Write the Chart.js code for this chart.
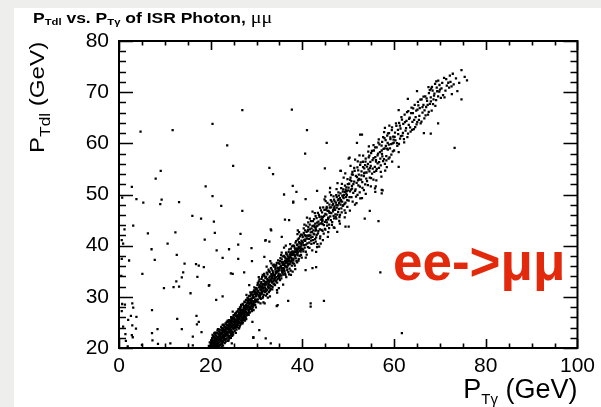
<!DOCTYPE html>
<html><head><meta charset="utf-8">
<script src="https://cdn.jsdelivr.net/npm/chart.js@4/dist/chart.umd.min.js"></script>
<style>html,body{margin:0;padding:0;background:#eeeeec;overflow:hidden}#wrap{width:601px;height:407px}</style>
</head><body><div id="wrap"><canvas id="c" width="601" height="407"></canvas></div>
<script>
const xTickLabels=[0,20,40,60,80,100];
const yTickLabels=[20,30,40,50,60,70,80];
const xTitle=['P','Tγ',' (GeV)'];
const yTitle=['P','Tdl',' (GeV)'];
const chartTitle=['P','Tdl',' vs. P','Tγ',' of ISR Photon, ','μμ'];
const channelLabel='ee->μμ';

const outlierPts=[
[2.8,51.5],[4.7,62.3],[8.0,53.1],[9.1,54.6],[11.7,62.6],[18.9,51.6],[20.4,63.8],[23.6,59.6],[24.9,55.6],[26.9,66.5],
[32.8,55.2],[33.6,54.0],[37.7,66.6],[37.9,51.7],[40.6,58.0],[41.0,62.6],[44.9,55.1],[45.3,60.1],[48.4,54.6],[50.1,57.0],
[50.5,55.6],[51.9,60.1],[20.4,49.7],[3.8,49.1],[5.3,48.4],[9.0,48.1],[9.3,49.0],[13.1,48.5],[0.7,49.4],[22.3,47.8],
[16.0,45.8],[17.9,45.3],[20.7,44.7],[26.9,46.8],[3.1,43.9],[1.2,43.2],[6.3,42.4],[12.3,42.6],[20.9,42.5],[26.5,42.3],
[0.6,41.1],[0.9,40.4],[18.7,41.2],[10.6,40.4],[7.1,39.3],[21.3,39.1],[24.0,39.3],[26.0,40.2],[28.9,39.5],[33.2,43.0],
[31.9,41.0],[12.6,38.2],[22.6,37.6],[0.6,37.4],[7.8,37.2],[2.2,37.1],[14.3,36.5],[16.8,36.4],[17.4,36.1],[26.0,37.4],
[29.0,37.0],[5.1,34.5],[14.0,34.8],[13.7,33.8],[12.5,33.0],[18.5,35.8],[17.1,33.9],[24.8,34.5],[27.3,34.8],[0.5,34.1],
[9.8,31.7],[11.9,31.9],[13.1,32.0],[15.6,30.7],[19.6,32.2],[0.7,28.6],[1.3,28.5],[2.9,28.7],[3.1,27.9],[0.6,27.2],
[2.6,26.3],[3.8,26.1],[7.2,27.4],[21.2,29.4],[22.6,30.1],[2.0,25.5],[0.9,24.2],[2.9,24.4],[3.7,23.8],[12.7,25.7],
[16.9,26.3],[17.4,25.1],[17.0,24.6],[13.7,23.7],[8.4,23.7],[1.4,22.7],[2.8,22.5],[7.2,22.9],[3.0,22.1],[1.5,21.4],
[7.3,21.5],[8.5,20.8],[11.2,20.9],[16.1,22.2],[18.0,23.1],[16.1,20.5],[29.3,22.1],[61.7,22.9],[73.2,59.1],[57.0,34.8],
[53.6,45.3],[56.6,44.8],[54.7,46.8],[57.3,50.9],[57.3,50.2],[61.0,55.4],[68.0,61.9],[69.6,63.9],[61.0,66.5],[53.0,61.7],
[36.0,50.0],[38.7,50.5],[38.0,48.4],[40.7,49.1],[36.2,45.1],[41.8,28.7],[41.8,28.1],[44.7,29.2],[36.9,29.2],[34.4,28.2],
[29.3,22.0],[24.6,20.9],[43.0,35.8],[40.7,35.2],[37.1,34.4],[49.4,43.7],[47.6,42.7],[42.9,40.8],[50.1,43.7],[51.8,48.3],
[52.6,61.7],[48.3,54.6],[50.3,57.2],[55.9,50.5],[57.5,50.8],[30.6,23.5],[34.6,28.4],[29.1,25.1],[28.4,32.3],[24.4,34.6],
[19.7,32.3],[32.0,21.9],[33.1,20.9],[38.0,48.6],[43.2,50.7],[37.1,45.0],[33.1,43.2],[32.0,41.1],[32.8,40.8],[35.5,41.7],
[43.2,39.7],[42.2,35.6],[31.7,37.8],[1.9,20.3],[5.0,20.6]
];
const band20to30=[
[19.6,20.4],[19.8,21.1],[19.9,20.2],[20.0,20.7],[20.1,21.5],[20.2,20.1],[20.3,22.0],[20.4,20.9],[20.5,21.4],[20.5,20.3],
[20.6,22.3],[20.7,20.6],[20.8,21.8],[20.9,20.2],[21.0,21.1],[21.0,22.6],[21.1,20.5],[21.2,21.9],[21.3,20.8],[21.4,22.9],
[21.4,21.3],[21.5,20.4],[21.6,22.1],[21.7,21.0],[21.8,23.2],[21.9,21.7],[22.0,20.6],[22.0,22.5],[22.1,23.6],[22.2,21.4],
[22.3,22.8],[22.4,20.9],[22.5,21.9],[22.5,23.9],[22.6,22.4],[22.7,21.2],[22.8,23.3],[22.9,22.0],[23.0,24.2],[23.0,22.9],
[23.1,21.7],[23.2,23.6],[23.3,22.4],[23.4,24.6],[23.5,23.1],[23.5,21.9],[23.6,24.0],[23.7,22.7],[23.8,25.0],[23.9,23.4],
[24.0,22.3],[24.0,24.5],[24.1,23.8],[24.2,25.3],[24.3,22.9],[24.4,24.1],[24.5,25.7],[24.5,23.5],[24.6,24.8],[24.7,22.8],
[24.8,26.0],[24.9,24.3],[25.0,25.2],[25.0,23.7],[25.1,26.4],[25.2,24.7],[25.3,25.6],[25.4,23.9],[25.5,26.8],[25.5,25.0],
[25.6,24.2],[25.7,26.1],[25.8,25.4],[25.9,27.2],[26.0,24.8],[26.0,26.5],[26.1,25.7],[26.2,27.6],[26.3,24.9],[26.4,26.2],
[26.5,27.0],[26.5,25.4],[26.6,28.1],[26.7,26.6],[26.8,25.3],[26.9,27.4],[27.0,26.1],[27.0,28.5],[27.1,27.0],[27.2,25.9],
[27.3,28.0],[27.4,26.7],[27.5,28.9],[27.5,27.3],[27.6,26.1],[27.7,28.4],[27.8,27.6],[27.9,29.3],[28.0,26.8],[28.0,28.1],
[28.1,29.7],[28.2,27.5],[28.3,28.8],[28.4,26.9],[28.5,29.4],[28.5,28.0],[28.6,30.2],[28.7,27.8],[28.8,29.0],[28.9,30.6],
[29.0,28.4],[29.0,29.7],[29.1,27.6],[29.2,30.4],[29.3,29.1],[29.4,31.0],[29.5,28.5],[29.5,29.9],[29.6,30.8],[29.7,28.9],
[29.8,31.4],[29.9,30.1],[30.0,29.2],[30.0,31.7],[21.8,20.3],[22.6,24.5],[23.9,21.5],[24.8,27.1],[26.2,23.9],[27.8,30.4],
[19.72,20.05],[20.14,20.88],[20.33,21.62],[20.48,20.51],[20.61,21.17],[20.77,22.84],[20.86,20.37],[20.95,21.93],[21.08,20.74],[21.16,22.41],
[21.27,21.55],[21.35,20.12],[21.46,23.38],[21.52,22.06],[21.63,20.93],[21.71,21.48],[21.84,22.77],[21.92,20.58],[22.03,23.05],[22.11,21.66],
[22.18,22.19],[22.29,24.12],[22.36,20.31],[22.44,22.95],[22.57,21.08],[22.63,23.47],[22.72,22.61],[22.81,24.58],[22.88,21.52],[22.97,23.09],
[23.06,20.97],[23.13,22.35],[23.24,24.83],[23.31,23.27],[23.42,21.84],[23.49,25.11],[23.58,22.66],[23.66,23.92],[23.77,21.38],[23.83,24.41],
[23.94,23.05],[24.02,25.46],[24.13,22.14],[24.19,23.71],[24.28,24.96],[24.37,22.52],[24.46,26.03],[24.53,24.27],[24.62,23.18],[24.74,25.59],
[24.81,23.89],[24.89,22.61],[24.97,26.37],[25.06,24.58],[25.14,25.83],[25.23,23.34],[25.31,26.71],[25.42,24.96],[25.48,22.97],[25.57,25.42],
[25.66,27.05],[25.73,24.07],[25.85,26.14],[25.91,25.03],[26.04,27.58],[26.12,23.86],[26.19,26.89],[26.31,25.62],[26.38,27.93],[26.47,24.53],
[26.56,26.27],[26.64,28.45],[26.73,25.18],[26.82,27.31],[26.91,24.76],[26.98,28.62],[27.09,26.54],[27.16,27.77],[27.27,25.48],[27.35,29.04],
[27.44,26.93],[27.52,28.19],[27.61,25.86],[27.69,29.41],[27.78,27.12],[27.87,26.38],[27.96,28.73],[28.04,29.86],[28.13,26.67],[28.22,28.34],
[28.31,27.24],[28.39,30.18],[28.48,28.91],[28.57,26.95],[28.66,29.63],[28.74,28.12],[28.83,30.47],[28.92,27.58],[29.01,29.25],[29.09,30.93],
[29.18,28.06],[29.27,29.78],[29.36,27.42],[29.44,31.26],[29.53,29.11],[29.62,30.52],[29.71,28.37],[29.79,31.68],[29.88,29.46],[29.97,30.84],
[20.22,20.19],[20.41,22.57],[20.69,20.04],[20.91,23.02],[21.21,20.28],[21.39,21.84],[21.58,23.71],[21.77,20.16],[21.98,22.26],[22.24,20.71],
[22.39,23.44],[22.53,22.12],[22.69,20.48],[22.92,24.36],[23.09,23.58],[23.28,21.27],[23.52,22.88],[23.71,25.36],[23.89,22.19],[24.07,24.74],
[24.23,23.43],[24.41,21.96],[24.58,25.28],[24.77,24.02],[24.93,23.04],[25.11,25.07],[25.28,24.31],[25.46,26.27],[25.62,23.61],[25.79,25.88],
[25.97,24.41],[26.15,26.36],[26.34,24.22],[26.52,27.64],[26.69,25.83],[26.86,26.91],[27.04,25.02],[27.22,28.23],[27.41,26.42],[27.58,27.71],
[27.76,25.64],[27.93,27.95],[28.11,28.98],[28.29,26.47],[28.46,28.53],[28.64,30.88],[28.81,28.71],[28.99,27.21],[29.16,30.31],[29.34,28.81],
[29.51,31.86],[29.69,29.43],[29.86,27.93],[21.12,21.29],[21.88,22.49],[22.46,21.36],[23.17,24.02],[23.61,23.13],[24.34,24.56],[24.69,22.39]
];
const band20to30extra=[
[20.06,20.58],[20.27,21.34],[20.52,22.08],[20.73,21.41],[20.98,20.86],[21.19,22.97],[21.43,20.67],[21.66,21.79],[21.86,23.58],[22.07,21.91],
[22.27,22.62],[22.49,20.82],[22.74,23.81],[22.95,22.46],[23.19,21.53],[23.38,23.97],[23.56,24.42],[23.79,23.67],[24.04,21.82],[24.26,24.23],
[24.48,23.02],[24.71,24.61],[24.92,25.73],[25.18,23.94],[25.37,25.32],[25.59,26.39],[25.81,24.69],[26.01,25.26],[26.24,26.02],[26.44,27.31],
[26.63,24.87],[26.84,26.08],[27.06,27.43],[27.29,26.28],[27.47,25.37],[27.71,27.88],[27.91,26.74],[28.14,27.91],[28.36,29.38],[28.55,27.62],
[28.78,29.31],[28.97,28.69],[29.21,29.97],[29.42,28.36],[29.64,31.02],[29.84,30.26],[20.38,20.16],[20.64,20.94],[20.83,22.16],[21.04,21.63],
[21.31,22.24],[21.48,20.88],[21.69,22.64],[21.94,21.17],[22.14,22.92],[22.33,21.61],[22.58,23.29],[22.79,22.27],[23.02,23.34],[23.26,22.76],
[23.44,23.69],[23.69,22.41],[23.92,24.06],[24.16,23.27],[24.39,25.07],[24.63,24.04],[24.84,25.16],[25.03,24.21],[25.26,25.46],[25.51,24.52],
[25.71,25.51],[25.95,26.21],[26.16,25.06],[26.41,26.72],[26.61,26.41],[26.88,25.71],[27.13,26.86],[27.37,27.52],[27.62,27.04],[27.84,28.16]
];
const band30to40=[
[30.1,30.6],[30.2,32.3],[30.3,29.5],[30.4,31.2],[30.5,33.0],[30.6,30.4],[30.7,31.9],[30.8,29.8],[30.9,32.6],[31.0,31.3],
[31.1,33.5],[31.2,30.7],[31.3,32.1],[31.4,30.0],[31.5,33.2],[31.6,31.8],[31.7,34.1],[31.8,30.9],[31.9,32.7],[32.0,31.5],
[32.1,33.9],[32.2,32.4],[32.3,30.6],[32.4,34.4],[32.5,33.1],[32.6,31.7],[32.7,35.0],[32.8,32.9],[32.9,31.2],[33.0,34.0],
[33.1,33.4],[33.2,32.1],[33.3,35.3],[33.4,33.8],[33.5,31.9],[33.6,34.7],[33.7,33.1],[33.8,35.9],[33.9,32.6],[34.0,34.3],
[34.1,35.4],[34.2,33.0],[34.3,36.2],[34.4,34.8],[34.5,32.8],[34.6,35.7],[34.7,34.1],[34.8,36.6],[34.9,33.7],[35.0,35.2],
[35.1,37.0],[35.2,34.4],[35.3,36.0],[35.4,33.6],[35.5,37.3],[35.6,35.6],[35.7,34.7],[35.8,36.8],[35.9,35.1],[36.0,38.0],
[36.1,36.3],[36.2,34.6],[36.3,37.5],[36.4,35.9],[36.5,38.4],[36.6,36.7],[36.7,35.2],[36.8,37.9],[36.9,36.2],[37.0,38.8],
[37.1,37.1],[37.2,35.5],[37.3,38.3],[37.4,36.8],[37.5,39.4],[37.6,37.6],[37.7,36.1],[37.8,38.9],[37.9,37.3],[38.0,40.0],
[38.1,38.4],[38.2,36.5],[38.3,39.6],[38.4,37.9],[38.5,40.6],[38.6,38.8],[38.7,37.0],[38.8,40.1],[38.9,38.5],[39.0,41.2],
[39.1,39.3],[39.2,37.4],[39.3,40.7],[39.4,39.0],[39.5,41.8],[39.6,39.8],[39.7,38.2],[39.8,41.0],[39.9,39.4],[40.0,42.1],
[31.5,28.9],[33.0,37.0],[34.5,30.8],[36.0,39.6],[37.5,34.3],[39.0,43.0],[35.8,32.4],[32.2,35.9],
[30.06,31.47],[30.14,29.07],[30.27,32.71],[30.35,30.89],[30.44,28.93],[30.56,31.83],[30.63,33.42],[30.75,30.12],[30.84,32.14],[30.92,29.61],
[31.04,32.88],[31.13,31.02],[31.22,33.91],[31.31,29.74],[31.39,31.62],[31.48,32.53],[31.57,30.37],[31.66,34.48],[31.74,32.29],[31.86,31.08],
[31.93,33.67],[32.05,30.23],[32.13,32.89],[32.24,34.72],[32.33,31.34],[32.41,33.28],[32.52,32.02],[32.61,35.33],[32.69,30.91],[32.78,33.74],
[32.87,34.81],[32.96,32.27],[33.07,31.53],[33.15,35.62],[33.26,33.06],[33.34,34.17],[33.43,31.48],[33.52,35.04],[33.63,33.57],[33.71,32.43],
[33.82,36.27],[33.91,34.02],[34.03,32.31],[34.12,35.88],[34.21,34.59],[34.33,33.21],[34.41,36.64],[34.52,35.07],[34.61,33.46],[34.72,37.12],
[34.83,35.29],[34.91,34.06],[35.04,36.43],[35.12,33.27],[35.21,37.58],[35.33,35.71],[35.42,34.13],[35.51,36.76],[35.62,35.17],[35.73,37.89],
[35.84,34.36],[35.92,36.51],[36.03,35.46],[36.14,37.83],[36.23,36.02],[36.31,34.27],[36.44,38.66],[36.52,37.04],[36.63,35.71],[36.72,38.27],
[36.84,36.96],[36.93,34.82],[37.05,37.47],[37.13,39.28],[37.24,36.37],[37.36,38.01],[37.44,35.14],[37.55,38.71],[37.64,37.21],[37.73,39.87],
[37.85,36.58],[37.94,38.43],[38.03,37.06],[38.15,39.96],[38.26,38.19],[38.34,36.09],[38.45,39.31],[38.56,37.53],[38.65,40.88],[38.74,38.32],
[38.86,36.74],[38.95,40.26],[39.04,38.71],[39.15,37.06],[39.24,41.43],[39.36,39.52],[39.44,38.03],[39.55,40.44],[39.66,42.16],[39.74,39.13],
[39.86,37.68],[39.95,40.79],[30.48,33.86],[31.77,28.72],[33.24,36.53],[34.86,31.72],[36.38,40.02],[37.87,34.93],[38.92,42.24],[35.48,38.62],
[30.69,30.76],[31.19,31.91],[31.61,31.27],[32.17,32.76],[32.73,32.38],[33.29,33.62],[33.77,34.31],[34.27,34.82],[34.78,34.93],[35.27,35.86],
[35.77,36.24],[36.27,36.91],[36.79,37.33],[37.29,37.74],[37.79,38.18],[38.31,38.87],[38.81,39.47],[39.31,39.83],[39.81,40.37],[30.97,30.61]
];
const band30to40extra=[
[30.18,31.02],[30.39,30.27],[30.61,32.36],[30.81,31.44],[31.02,30.48],[31.26,32.42],[31.46,31.13],[31.69,33.06],[31.91,31.83],[32.12,31.06],
[32.36,33.47],[32.58,32.61],[32.81,31.84],[33.02,33.24],[33.22,34.42],[33.47,32.86],[33.68,34.13],[33.93,33.31],[34.14,34.96],[34.37,33.83],
[34.59,35.52],[34.81,34.44],[35.02,34.03],[35.24,35.82],[35.46,35.16],[35.68,36.41],[35.89,35.64],[36.11,35.02],[36.34,36.58],[36.56,37.42],
[36.78,36.11],[36.99,37.68],[37.21,36.93],[37.43,38.52],[37.66,37.01],[37.88,38.66],[38.09,37.46],[38.32,38.09],[38.54,39.34],[38.76,38.98],
[38.98,38.11],[39.19,39.72],[39.41,40.46],[39.63,38.86],[39.84,40.08],[30.86,28.74],[31.35,34.31],[32.46,29.83],[33.56,36.14],[34.46,31.29],
[35.37,38.13],[36.48,33.86],[37.34,40.29],[38.44,35.41],[39.27,42.63],[30.53,30.02],[31.08,31.71],[31.83,32.41],[32.64,33.15],[33.38,32.78],
[34.07,33.68],[34.93,35.61],[35.58,34.88],[36.19,37.01],[36.87,36.52],[37.58,38.16],[38.23,38.77],[38.91,39.13],[39.58,39.41],[32.92,30.08]
];
const band40to50=[
[40.1,40.6],[40.2,38.9],[40.3,42.5],[40.4,41.1],[40.5,39.6],[40.6,43.0],[40.7,41.8],[40.8,40.2],[40.9,42.7],[41.0,41.4],
[41.2,39.7],[41.3,43.6],[41.4,42.0],[41.5,40.6],[41.6,44.1],[41.8,42.6],[41.9,41.0],[42.0,43.4],[42.2,41.7],[42.3,44.8],
[42.4,43.0],[42.5,40.5],[42.6,42.2],[42.8,44.3],[42.9,43.5],[43.0,41.6],[43.1,45.4],[43.3,43.9],[43.4,42.4],[43.5,44.7],
[43.6,46.0],[43.8,43.2],[43.9,41.8],[44.0,45.1],[44.2,44.4],[44.3,46.5],[44.4,42.9],[44.5,45.6],[44.7,44.0],[44.8,47.0],
[44.9,43.3],[45.0,46.2],[45.2,45.0],[45.3,47.6],[45.4,43.9],[45.5,46.8],[45.7,45.5],[45.8,44.1],[45.9,48.0],[46.0,46.4],
[46.2,45.0],[46.3,47.5],[46.4,48.6],[46.5,44.6],[46.7,47.0],[46.8,45.8],[46.9,49.0],[47.0,47.7],[47.2,46.1],[47.3,48.4],
[47.4,45.3],[47.5,49.5],[47.7,47.9],[47.8,46.6],[47.9,49.1],[48.0,48.3],[48.2,46.0],[48.3,50.2],[48.4,48.9],[48.5,47.3],
[48.7,49.8],[48.8,47.8],[48.9,51.0],[49.0,49.3],[49.2,46.9],[49.3,50.5],[49.4,48.4],[49.6,51.4],[49.7,49.9],[49.8,47.6],
[50.0,50.8],[41.0,45.5],[43.0,38.8],[45.0,49.6],[47.0,43.5],[49.0,53.3],[44.0,40.4],[46.0,50.4],
[40.07,41.66],[40.18,39.27],[40.29,43.38],[40.38,40.12],[40.52,42.04],[40.63,41.23],[40.74,38.81],[40.86,43.92],[40.97,41.97],[41.08,40.44],
[41.17,42.86],[41.28,44.57],[41.42,41.33],[41.53,39.58],[41.64,43.17],[41.76,42.02],[41.87,44.78],[41.96,40.36],[42.08,42.71],[42.19,43.89],
[42.31,41.08],[42.43,42.36],[42.54,45.21],[42.66,43.62],[42.77,41.29],[42.88,45.77],[42.99,43.04],[43.12,42.13],[43.23,44.49],[43.37,46.41],
[43.48,42.86],[43.59,44.14],[43.71,45.63],[43.84,41.44],[43.95,44.32],[44.06,46.88],[44.18,43.07],[44.29,45.27],[44.41,44.21],[44.54,47.49],
[44.65,42.35],[44.76,45.84],[44.89,44.67],[45.01,43.12],[45.13,47.04],[45.24,46.08],[45.36,44.53],[45.47,48.37],[45.59,45.16],[45.72,46.79],
[45.83,43.41],[45.96,47.46],[46.08,45.73],[46.19,48.92],[46.31,46.34],[46.44,44.07],[46.56,47.91],[46.67,46.68],[46.79,49.63],[46.91,45.32],
[47.03,48.66],[47.14,47.02],[47.26,45.61],[47.38,49.87],[47.49,47.43],[47.62,46.08],[47.74,48.83],[47.86,50.42],[47.97,47.19],[48.09,45.57],
[48.21,49.28],[48.33,48.04],[48.46,51.26],[48.57,46.52],[48.68,48.62],[48.81,50.57],[48.93,47.93],[49.06,49.91],[49.18,48.16],[49.29,51.73],
[49.42,46.43],[49.53,49.47],[49.66,50.66],[49.78,48.88],[49.91,52.04],[41.35,41.92],[42.85,42.94],[44.37,45.01],[45.88,46.53],[47.41,47.96],
[48.92,49.47],[43.66,39.82],[46.04,51.27],[48.18,44.31],[42.21,46.63],[44.82,49.07],[47.66,52.24],[40.73,37.64],[45.55,41.72],[49.35,54.12]
];
const band50to60=[
[50.1,48.8],[50.2,52.1],[50.4,50.6],[50.5,53.3],[50.7,49.5],[50.8,51.7],[51.0,53.9],[51.1,50.3],[51.3,52.5],[51.4,54.6],
[51.6,51.0],[51.7,49.6],[51.9,53.4],[52.0,55.3],[52.2,51.8],[52.3,53.9],[52.5,50.4],[52.6,55.8],[52.8,52.9],[52.9,54.5],
[53.1,51.3],[53.2,56.4],[53.4,53.6],[53.5,55.1],[53.7,52.0],[53.8,57.0],[54.0,54.3],[54.1,52.6],[54.3,56.0],[54.4,54.9],
[54.6,57.6],[54.7,53.3],[54.9,55.6],[55.0,58.1],[55.2,54.1],[55.3,56.7],[55.5,52.9],[55.6,58.6],[55.8,55.4],[55.9,57.3],
[56.1,54.6],[56.2,59.2],[56.4,56.1],[56.5,58.0],[56.7,55.2],[56.8,59.8],[57.0,57.0],[57.1,54.4],[57.3,58.6],[57.4,60.3],
[57.6,56.5],[57.7,58.9],[57.9,61.0],[58.0,56.0],[58.2,59.5],[58.3,57.5],[58.5,61.5],[58.6,60.1],[58.8,57.0],[58.9,62.0],
[59.1,59.0],[59.2,60.8],[59.4,57.8],[59.5,62.6],[59.7,60.0],[59.8,61.3],[60.0,58.6],[51.5,56.8],[53.0,49.3],[56.0,51.6],
[58.0,63.0],[54.5,59.4],
[50.08,51.36],[50.27,49.47],[50.43,52.84],[50.61,50.94],[50.79,53.92],[50.96,48.63],[51.12,52.03],[51.31,55.18],[51.48,50.72],[51.66,53.64],
[51.83,52.27],[52.02,49.94],[52.17,54.71],[52.36,53.06],[52.54,51.52],[52.71,56.28],[52.88,53.74],[53.06,52.41],[53.23,55.37],[53.41,50.86],
[53.58,54.29],[53.76,56.43],[53.93,53.08],[54.11,55.46],[54.28,51.82],[54.46,57.24],[54.63,54.52],[54.82,56.38],[54.98,53.21],[55.16,58.51],
[55.34,55.07],[55.51,57.12],[55.69,54.44],[55.86,59.23],[56.04,56.72],[56.22,55.03],[56.39,57.66],[56.57,60.14],[56.74,56.33],[56.92,58.28],
[57.09,55.71],[57.27,59.57],[57.44,57.44],[57.62,61.22],[57.79,56.91],[57.97,59.01],[58.15,60.64],[58.32,56.66],[58.49,58.97],[58.67,61.93],
[58.85,59.76],[59.02,57.27],[59.19,61.18],[59.37,59.86],[59.55,63.12],[59.72,58.44],[59.89,60.71],[52.45,57.63],[55.83,51.22],[58.06,54.67]
];
const band40to60extra=[
[40.44,44.12],[40.95,38.24],[41.62,45.28],[42.15,39.06],[42.71,46.36],[43.27,40.32],[43.88,47.41],[44.46,41.08],[45.07,48.72],[45.64,42.63],
[46.26,49.88],[46.83,43.56],[47.45,51.07],[48.04,44.82],[48.62,52.06],[49.23,45.51],[49.84,53.02],[50.36,46.87],[50.91,54.43],[51.47,48.02],
[52.07,56.47],[52.63,49.26],[53.24,57.61],[53.82,50.14],[54.37,58.39],[54.93,51.58],[55.51,59.64],[56.13,52.74],[56.66,60.76],[57.24,53.51],
[57.82,62.18],[58.41,55.34],[58.97,63.47],[59.58,56.42],[40.61,40.93],[41.84,41.57],[43.06,43.76],[44.33,44.86],[45.63,45.44],[46.94,47.36],
[48.27,48.64],[49.57,50.16],[50.84,51.14],[52.14,52.76],[53.46,54.11],[54.75,55.14],[56.06,56.41],[57.36,57.93],[58.64,58.76],[59.93,60.12],
[41.23,43.02],[42.56,43.91],[44.14,45.66],[45.31,47.33],[46.71,48.15],[47.95,49.76],[49.44,50.93],[50.69,52.62],[52.27,52.88],[53.67,55.72]
];
const band60to76=[
[60.2,62.1],[60.3,60.6],[60.5,63.4],[60.7,59.5],[60.9,61.8],[61.1,64.0],[61.3,60.9],[61.4,62.9],[61.6,65.1],[61.8,61.5],
[62.0,63.8],[62.2,60.2],[62.3,65.6],[62.5,62.5],[62.7,64.4],[62.9,61.2],[63.1,66.3],[63.2,63.6],[63.4,65.0],[63.6,62.3],
[63.8,67.0],[64.0,64.2],[64.1,65.9],[64.3,62.8],[64.5,67.5],[64.7,65.1],[64.9,63.7],[65.1,66.6],[65.2,68.1],[65.4,64.6],
[65.6,66.9],[65.8,63.9],[66.0,68.6],[66.2,66.0],[66.4,67.5],[66.6,64.9],[66.8,69.2],[67.0,67.1],[67.2,68.3],[67.4,65.6],
[67.6,69.8],[67.8,67.7],[68.0,69.0],[68.2,66.4],[68.4,70.3],[68.6,68.6],[68.8,69.7],[69.0,67.3],[69.3,70.9],[69.6,69.2],
[69.9,71.4],[61.0,58.3],[63.0,68.7],[66.5,62.0],[65.0,70.2],
[70.2,68.9],[70.5,71.8],[70.9,72.8],[71.2,70.3],[71.5,71.3],[72.0,70.9],[72.3,72.0],[72.6,69.6],[73.0,71.5],[73.5,72.7],
[73.8,70.2],[74.2,71.8],[74.7,74.3],[75.4,73.0],[75.9,72.3],[74.7,68.6],[71.0,69.0],[72.8,73.6],[70.0,70.5],[68.1,70.7],
[69.2,72.1],[67.5,71.0],
[60.12,61.27],[60.41,63.91],[60.63,60.02],[60.84,62.64],[61.06,59.87],[61.27,63.46],[61.49,61.39],[61.72,64.63],[61.93,62.06],[62.14,60.83],
[62.38,64.15],[62.61,62.97],[62.83,66.12],[63.04,61.88],[63.27,64.77],[63.49,63.11],[63.72,65.91],[63.94,62.62],[64.17,66.84],[64.38,64.57],
[64.61,63.19],[64.83,66.38],[65.06,64.13],[65.29,67.44],[65.51,65.37],[65.73,68.52],[65.97,64.26],[66.19,67.08],[66.42,69.13],[66.64,66.43],
[66.87,65.46],[67.09,68.77],[67.33,67.51],[67.56,66.17],[67.79,70.38],[68.02,68.21],[68.26,71.04],[68.49,67.64],[68.71,69.31],[68.94,71.62],
[69.17,68.44],[69.41,70.18],[69.63,72.26],[69.86,70.09],[70.34,70.76],[70.68,69.44],[71.37,72.53],[71.82,71.84],[72.16,73.21],[72.54,71.12]
];

const allPts=[].concat(outlierPts,band20to30,band20to30extra,band30to40,band30to40extra,band40to50,band50to60,band40to60extra,band60to76).map(p=>({x:p[0],y:p[1]}));

const SANS='"Liberation Sans", Arial, Helvetica, sans-serif';
const SERIF='"Liberation Serif", "Times New Roman", serif';

function drawRich(ctx,x,y,parts,sx,align){
  ctx.save();
  ctx.translate(x,y);
  ctx.scale(sx,1);
  let w=0;
  parts.forEach(p=>{ctx.font=p.f;w+=ctx.measureText(p.t).width;});
  let cx=align==='right'?-w:0;
  ctx.textBaseline='alphabetic';
  ctx.textAlign='left';
  parts.forEach(p=>{ctx.font=p.f;ctx.fillText(p.t,cx,p.dy||0);cx+=ctx.measureText(p.t).width;});
  ctx.restore();
}

const decor={
  id:'decor',
  beforeDraw(chart){
    const ctx=chart.ctx;
    ctx.save();
    ctx.fillStyle='#eeeeec';
    ctx.fillRect(0,0,chart.width,chart.height);
    ctx.fillStyle='#ffffff';
    ctx.fillRect(14,8,chart.width-14,chart.height-8);
    ctx.restore();
  },
  afterDraw(chart){
    const ctx=chart.ctx, a=chart.chartArea, xs=chart.scales.x, ys=chart.scales.y;
    ctx.save();
    ctx.strokeStyle='#000';
    ctx.lineWidth=1.6;
    ctx.beginPath();
    for(let v=xs.min; v<=xs.max; v+=5){
      const px=Math.round(xs.getPixelForValue(v))+0.5;
      const L=(v%20===0)?9:4.5;
      ctx.moveTo(px,a.bottom);ctx.lineTo(px,a.bottom-L);
      ctx.moveTo(px,a.top);ctx.lineTo(px,a.top+L);
    }
    for(let v=ys.min; v<=ys.max; v+=2){
      const py=Math.round(ys.getPixelForValue(v))+0.5;
      const L=(v%10===0)?14:7;
      ctx.moveTo(a.left,py);ctx.lineTo(a.left+L,py);
      ctx.moveTo(a.right,py);ctx.lineTo(a.right-L,py);
    }
    ctx.stroke();
    ctx.lineWidth=2;
    ctx.strokeRect(a.left,a.top,a.right-a.left,a.bottom-a.top);
    ctx.fillStyle='#000';
    drawRich(ctx,33,23,[
      {t:chartTitle[0],f:'bold 14px '+SANS},
      {t:chartTitle[1],f:'bold 9px '+SANS,dy:2},
      {t:chartTitle[2],f:'bold 14px '+SANS},
      {t:chartTitle[3],f:'bold 9px '+SANS,dy:2},
      {t:chartTitle[4],f:'bold 14px '+SANS},
      {t:chartTitle[5],f:'16px '+SERIF}
    ],1.25,'left');
    drawRich(ctx,a.right,398,[
      {t:xTitle[0],f:'27px '+SANS},
      {t:xTitle[1],f:'15px '+SANS,dy:6},
      {t:xTitle[2],f:'27px '+SANS}
    ],1,'right');
    ctx.save();
    ctx.translate(44,153);
    ctx.rotate(-Math.PI/2);
    drawRich(ctx,0,0,[
      {t:yTitle[0],f:'21px '+SANS},
      {t:yTitle[1],f:'15px '+SANS,dy:6},
      {t:yTitle[2],f:'21px '+SANS}
    ],1.15,'left');
    ctx.restore();
    ctx.fillStyle='#e3290b';
    ctx.font='bold 53px '+SANS;
    ctx.textBaseline='alphabetic';
    ctx.textAlign='left';
    ctx.fillText(channelLabel,393,280);
    ctx.restore();
  }
};

new Chart(document.getElementById('c'),{
  type:'scatter',
  data:{datasets:[{
    data:allPts,
    backgroundColor:'#000',
    borderWidth:0,
    pointStyle:'rect',
    pointRadius:1.6,
    pointHoverRadius:1.6
  }]},
  options:{
    responsive:false,
    animation:false,
    devicePixelRatio:1,
    events:[],
    layout:{padding:{left:0,right:21,top:41,bottom:0}},
    plugins:{legend:{display:false},tooltip:{enabled:false},title:{display:false}},
    scales:{
      x:{type:'linear',min:0,max:100,
        afterBuildTicks:s=>{s.ticks=xTickLabels.map(v=>({value:v}));},
        ticks:{font:{family:SANS,size:21},color:'#000',padding:6,maxRotation:0,autoSkip:false},
        grid:{display:false,drawTicks:false},border:{display:false},
        afterFit:s=>{s.height=59;}},
      y:{type:'linear',min:20,max:80,
        afterBuildTicks:s=>{s.ticks=yTickLabels.map(v=>({value:v}));},
        ticks:{font:{family:SANS,size:21},color:'#000',padding:10,autoSkip:false},
        grid:{display:false,drawTicks:false},border:{display:false},
        afterFit:s=>{s.width=119;}}
    }
  },
  plugins:[decor]
});
</script></body></html>
